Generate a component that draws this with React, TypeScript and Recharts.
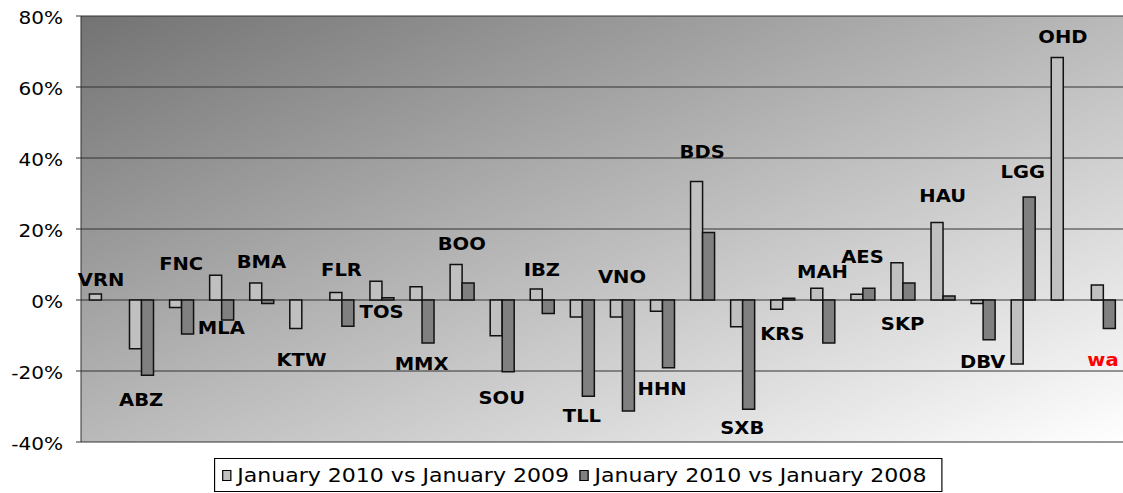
import React from "react";
import {
  ComposedChart,
  Bar,
  Line,
  XAxis,
  YAxis,
  CartesianGrid,
  LabelList,
} from "recharts";

// station codes along the x axis
const codes = [
  "VRN", "ABZ", "FNC", "MLA", "BMA", "KTW", "FLR", "TOS", "MMX", "BOO",
  "SOU", "IBZ", "TLL", "VNO", "HHN", "BDS", "SXB", "KRS", "MAH", "AES",
  "SKP", "HAU", "DBV", "LGG", "OHD", "wa",
];

// % change, Jan 2010 vs Jan 2009
const vs2009 = [
  1.7, -13.7, -2.1, 7.0, 4.8, -8.0, 2.1, 5.3, 3.7, 10.0,
  -10.1, 3.1, -4.8, -4.8, -3.2, 33.4, -7.5, -2.6, 3.3, 1.6,
  10.5, 21.8, -1.0, -18.0, 68.3, 4.2,
];

// % change, Jan 2010 vs Jan 2008 (null = no bar)
const vs2008 = [
  null, -21.2, -9.6, -5.6, -1.0, null, -7.4, 0.6, -12.1, 4.8,
  -20.2, -3.8, -27.1, -31.3, -19.1, 19.0, -30.8, 0.5, -12.1, 3.3,
  4.8, 1.1, -11.2, 29.0, null, -8.0,
];

// level (in %) at which each code label sits
const labelLevel = [
  5.6, -28.2, 10.2, -8.0, 10.8, -16.9, 8.5, -3.4, -18.0, 15.8,
  -27.6, 8.5, -32.8, 6.4, -25.2, 41.8, -36.0, -9.6, 8.0, 12.1,
  -6.8, 29.2, -17.4, 36.1, 74.1, -17.0,
];

const yTicks = [-40, -20, 0, 20, 40, 60, 80];
const seriesNames = ["January 2010 vs January 2009", "January 2010 vs January 2008"];

const data = codes.map((name, i) => ({
  name,
  a: vs2009[i],
  b: vs2008[i],
  lbl: labelLevel[i],
}));

const FONT = "DejaVu Sans";
const STRETCH = 1.18;
const C_LIGHT = "#c0c0c0";
const C_DARK = "#808080";

function PctTick(props: any) {
  const { x, y, payload } = props;
  return (
    <g transform={`translate(${x},${y}) scale(${STRETCH},1)`}>
      <text x={0} y={0} dy={8} textAnchor="end" fontSize={17} fontFamily={FONT} fill="#000">
        {payload.value}%
      </text>
    </g>
  );
}

function CodeLabel(props: any) {
  const { x, y, value } = props;
  if (x == null || y == null) return null;
  const red = value === "wa";
  return (
    <g transform={`translate(${x},${y}) scale(1.15,1)`}>
      <text
        x={0}
        y={0}
        dy={6}
        textAnchor="middle"
        fontSize={17}
        fontWeight="bold"
        fontFamily={FONT}
        fill={red ? "#ff0000" : "#000"}
      >
        {value}
      </text>
    </g>
  );
}

function LegendBox() {
  const colors = [C_LIGHT, C_DARK];
  return (
    <div
      style={{
        position: "absolute",
        left: 214,
        top: 458,
        width: 620,
        height: 32,
        boxSizing: "content-box",
        border: "1px solid #000",
        background: "#fff",
        transform: "scaleX(1.16)",
        transformOrigin: "left top",
        display: "flex",
        alignItems: "center",
        padding: "0 0 0 6px",
        fontFamily: FONT,
        fontSize: 19,
        color: "#000",
        whiteSpace: "nowrap",
      }}
    >
      {seriesNames.map((n, i) => (
        <span key={n} style={{ display: "flex", alignItems: "center", marginRight: 9 }}>
          <span
            style={{
              width: 6,
              height: 9,
              background: colors[i],
              border: "1px solid #000",
              marginRight: 5,
              display: "inline-block",
            }}
          />
          {n}
        </span>
      ))}
    </div>
  );
}

export default function App() {
  return (
    <div style={{ position: "absolute", left: 0, top: 0, width: 1123, height: 493, background: "#fff" }}>
      <ComposedChart
        width={1123}
        height={493}
        data={data}
        margin={{ top: 16, right: 0, bottom: 51, left: 0 }}
        barCategoryGap="21%"
        barGap={0}
      >
        <defs>
          <linearGradient id="plotBg" x1="0" y1="0" x2="1" y2="1">
            <stop offset="0%" stopColor="#737373" />
            <stop offset="100%" stopColor="#ffffff" />
          </linearGradient>
        </defs>
        <CartesianGrid vertical={false} stroke="#333" fill="url(#plotBg)" fillOpacity={1} />
        <XAxis dataKey="name" hide />
        <YAxis
          width={81}
          domain={[-40, 80]}
          ticks={yTicks}
          interval={0}
          axisLine={{ stroke: "#333" }}
          tickLine={{ stroke: "#333" }}
          tickSize={5}
          tickMargin={13}
          tick={<PctTick />}
        />
        <Bar dataKey="a" name={seriesNames[0]} fill={C_LIGHT} stroke="#111" strokeWidth={1.5} isAnimationActive={false} />
        <Bar dataKey="b" name={seriesNames[1]} fill={C_DARK} stroke="#111" strokeWidth={1.5} isAnimationActive={false} />
        <Line
          dataKey="lbl"
          stroke="none"
          dot={false}
          activeDot={false}
          legendType="none"
          isAnimationActive={false}
        >
          <LabelList dataKey="name" content={<CodeLabel />} />
        </Line>
      </ComposedChart>
      <LegendBox />
    </div>
  );
}
